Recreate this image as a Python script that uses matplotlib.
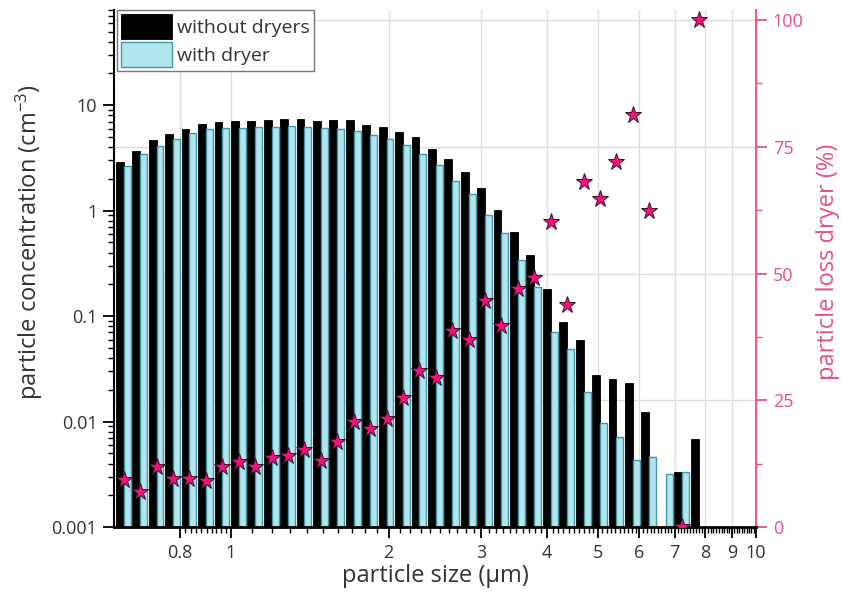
import numpy as np
import matplotlib
matplotlib.use("Agg")
import matplotlib.pyplot as plt
from matplotlib.ticker import FixedLocator, NullFormatter, LogLocator

plt.rcParams['font.family'] = ['Open Sans', 'DejaVu Sans']
plt.rcParams['mathtext.default'] = 'regular'

# APS channel midpoints (um)
sizes = [0.626, 0.673, 0.723, 0.777, 0.835, 0.898, 0.965, 1.037, 1.114, 1.197,
         1.286, 1.382, 1.486, 1.596, 1.715, 1.843, 1.981, 2.129, 2.288, 2.458,
         2.642, 2.839, 3.051, 3.278, 3.523, 3.786, 4.068, 4.371, 4.698, 5.048,
         5.425, 5.829, 6.264, 6.732, 7.234, 7.774]

without_dryers = [2.89, 3.68, 4.65, 5.30, 6.01, 6.60, 6.94, 7.05, 7.09, 7.20,
                  7.41, 7.36, 7.09, 7.20, 7.25, 6.46, 6.22, 5.63, 4.97, 3.82,
                  3.12, 2.31, 1.65, 1.01, 0.63, 0.376, 0.181, 0.088, 0.0591, 0.0274,
                  0.0255, 0.0232, 0.0123, np.nan, 0.00331, 0.00686]

with_dryer = [2.65, 3.42, 4.11, 4.75, 5.42, 5.99, 6.05, 6.09, 6.22, 6.22,
              6.36, 6.22, 6.09, 5.98, 5.75, 5.19, 4.83, 4.17, 3.42, 2.69,
              1.91, 1.45, 0.907, 0.608, 0.337, 0.189, 0.0712, 0.0491, 0.0189, 0.00967,
              0.00706, 0.00433, 0.00459, 0.00319, 0.00331, np.nan]

loss = [9.3, 7.0, 11.8, 9.4, 9.4, 9.0, 11.8, 12.9, 11.9, 13.6,
        14.1, 15.2, 13.1, 16.8, 20.8, 19.3, 21.3, 25.4, 30.7, 29.4,
        38.6, 36.8, 44.5, 39.7, 47.0, 49.2, 60.2, 43.8, 68.0, 64.8,
        72.0, 81.2, 62.3, np.nan, 0.0, 100.0]

xticks = [0.8, 1, 2, 3, 4, 5, 6, 7, 8, 9, 10]
xticklabels = ["0.8", "1", "2", "3", "4", "5", "6", "7", "8", "9", "10"]
yticks = [0.001, 0.01, 0.1, 1, 10]
yticklabels = ["0.001", "0.01", "0.1", "1", "10"]
rticks = [0, 25, 50, 75, 100]

pink = '#E6508A'
star_col = '#F2127D'

sizes = np.array(sizes)
without_dryers = np.array(without_dryers)
with_dryer = np.array(with_dryer)
loss = np.array(loss)

fig = plt.figure(figsize=(8.41, 6.12), dpi=100)
ax = fig.add_axes([114/841, 1-527/612, (756-114)/841, (527-10)/612])
ax2 = ax.twinx()
ax.set_zorder(ax2.get_zorder() + 1)
ax.patch.set_visible(False)

# bars: black to the left of the channel midpoint, blue to the right
left_b = sizes * 10**(-0.0150)
right_w = sizes * 10**(0.0132)
m = ~np.isnan(without_dryers)
ax.bar(left_b[m], without_dryers[m], width=(sizes - left_b)[m], bottom=1e-5,
       align='edge', color='black', edgecolor='black', linewidth=0.6,
       label='without dryers', zorder=2)
m = ~np.isnan(with_dryer)
ax.bar(sizes[m], with_dryer[m], width=(right_w - sizes)[m], bottom=1e-5,
       align='edge', color='#B3E5EE', edgecolor='#3C9AAB', linewidth=1.0,
       label='with dryer', zorder=2)

# stars on the right (percent) scale
m = ~np.isnan(loss)
ax.plot(sizes[m], loss[m], linestyle='none', marker='*', markersize=12.5,
        markerfacecolor=star_col, markeredgecolor='#3a1020', markeredgewidth=0.7,
        transform=ax2.transData, zorder=5)

ax.set_xscale('log')
ax.set_yscale('log')
ax.set_xlim(0.6, 10)
ax.set_ylim(0.001, 80)
ax2.set_ylim(0, 102)

ax.xaxis.set_major_locator(FixedLocator(xticks))
ax.set_xticklabels(xticklabels)
minor_x = list(np.arange(0.82, 0.99, 0.02)) + [v / 10 for v in range(11, 100) if v % 10 != 0]
ax.xaxis.set_minor_locator(FixedLocator(minor_x))
ax.xaxis.set_minor_formatter(NullFormatter())
ax.set_yticks(yticks)
ax.set_yticklabels(yticklabels)
ax.yaxis.set_minor_locator(LogLocator(base=10, subs=np.arange(2, 10)))
ax.yaxis.set_minor_formatter(NullFormatter())

ax.grid(axis='x', which='major', color='#dddddd', linewidth=1.0)
ax.set_axisbelow(True)
ax2.set_yticks(rticks)
ax2.set_yticks([12.5, 37.5, 62.5, 87.5], minor=True)
ax2.grid(axis='y', which='major', color='#dddddd', linewidth=1.0)
ax2.set_axisbelow(True)

ax.spines['top'].set_visible(False)
ax.spines['right'].set_visible(False)
ax.spines['left'].set_linewidth(1.5)
ax.spines['bottom'].set_linewidth(2.0)
for s in ['top', 'left', 'bottom']:
    ax2.spines[s].set_visible(False)
ax2.spines['right'].set_color(pink)
ax2.spines['right'].set_linewidth(1.5)

ax.tick_params(axis='both', which='major', length=8, width=1.3, labelsize=13,
               labelcolor='#333333', direction='out')
ax.tick_params(axis='both', which='minor', length=4, width=1.0, direction='out')
ax.tick_params(axis='x', which='major', pad=4)
ax.tick_params(axis='y', which='major', pad=4)
ax2.tick_params(axis='y', which='major', length=8, width=1.3, color=pink,
                labelcolor=pink, labelsize=13, pad=4)
ax2.tick_params(axis='y', which='minor', length=4, width=1.0, color=pink)

ax.set_xlabel('particle size (\u00b5m)', fontsize=17, color='#333333', labelpad=2)
ax.set_ylabel('particle concentration (cm$^{-3}$)', fontsize=17, color='#333333')
ax.yaxis.set_label_coords(-0.108, 0.551)
ax2.set_ylabel('particle loss dryer (%)', fontsize=17, color=pink)
ax2.yaxis.set_label_coords(1.094, 0.513)

leg = ax.legend(loc='upper left', bbox_to_anchor=(0.005, 1.0), borderaxespad=0,
                fontsize=14, frameon=True, fancybox=False, edgecolor='#555555',
                handlelength=2.6, handleheight=1.6, labelspacing=0.15,
                borderpad=0.2, handletextpad=0.3)
leg.get_frame().set_linewidth(1.0)
for t in leg.get_texts():
    t.set_color('#333333')

fig.savefig('out.png', dpi=100)
